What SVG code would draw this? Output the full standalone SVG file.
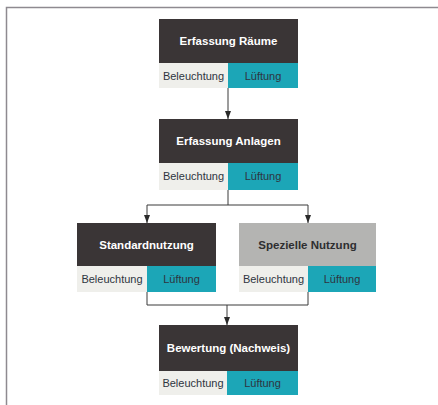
<svg xmlns="http://www.w3.org/2000/svg" width="438" height="405" viewBox="0 0 438 405">
<defs>
<style>
.hd{fill:#3a3536}
.hg{fill:#b4b4b2}
.lt{fill:#efefeb}
.tl{fill:#1ca6b7}
.ht{font-family:"Liberation Sans",Arial,sans-serif;font-size:11.5px;font-weight:bold;fill:#ffffff;text-anchor:middle}
.htd{fill:#2e2e30}
.rt{font-family:"Liberation Sans",Arial,sans-serif;font-size:11px;fill:#2e3440;text-anchor:middle}
.ln{stroke:#3a3a3a;stroke-width:1;fill:none}
</style>
<marker id="ah" viewBox="0 0 8 8" refX="8" refY="4" markerWidth="8" markerHeight="8" orient="auto" markerUnits="userSpaceOnUse">
<path d="M0,1 L8,4 L0,7 Z" fill="#2a2a2a"/>
</marker>
</defs>
<rect x="0" y="0" width="438" height="405" fill="#ffffff"/>
<path d="M6.5,405 V7.5 H438" stroke="#8e8a90" stroke-width="1.5" fill="none"/>
<g id="connectors">
<path class="ln" d="M228,88 V119" marker-end="url(#ah)"/>
<path class="ln" d="M228,190 V205 H147 V223" marker-end="url(#ah)"/>
<path class="ln" d="M228,205 H308 V223" marker-end="url(#ah)"/>
<path class="ln" d="M147,292 V305 H308 V292"/>
<path class="ln" d="M227,305 V325" marker-end="url(#ah)"/>
</g>
<g id="n1">
<rect class="hd" x="159" y="19" width="139" height="44"/>
<rect class="lt" x="159" y="63" width="69" height="25"/>
<rect class="tl" x="228" y="63" width="70" height="25"/>
<text class="ht" x="228.5" y="45">Erfassung Räume</text>
<text class="rt" x="193.5" y="79.5">Beleuchtung</text>
<text class="rt" x="263" y="79.5">Lüftung</text>
</g>
<g id="n2">
<rect class="hd" x="159" y="119" width="139" height="44"/>
<rect class="lt" x="159" y="163" width="69" height="27"/>
<rect class="tl" x="228" y="163" width="70" height="27"/>
<text class="ht" x="228.5" y="145">Erfassung Anlagen</text>
<text class="rt" x="193.5" y="180">Beleuchtung</text>
<text class="rt" x="263" y="180">Lüftung</text>
</g>
<g id="n3">
<rect class="hd" x="77" y="223" width="139" height="43"/>
<rect class="lt" x="77" y="266" width="70" height="26"/>
<rect class="tl" x="147" y="266" width="69" height="26"/>
<text class="ht" x="146.5" y="248.5">Standardnutzung</text>
<text class="rt" x="112" y="282.5">Beleuchtung</text>
<text class="rt" x="181.5" y="282.5">Lüftung</text>
</g>
<g id="n4">
<rect class="hg" x="239" y="223" width="137" height="43"/>
<rect class="lt" x="239" y="266" width="69" height="26"/>
<rect class="tl" x="308" y="266" width="68" height="26"/>
<text class="ht htd" x="307.5" y="248.5">Spezielle Nutzung</text>
<text class="rt" x="273.5" y="282.5">Beleuchtung</text>
<text class="rt" x="342" y="282.5">Lüftung</text>
</g>
<g id="n5">
<rect class="hd" x="159" y="325" width="139" height="46"/>
<rect class="lt" x="159" y="371" width="68" height="24"/>
<rect class="tl" x="227" y="371" width="71" height="24"/>
<text class="ht" x="228.5" y="352">Bewertung (Nachweis)</text>
<text class="rt" x="193" y="386.5">Beleuchtung</text>
<text class="rt" x="262.5" y="386.5">Lüftung</text>
</g>
</svg>
